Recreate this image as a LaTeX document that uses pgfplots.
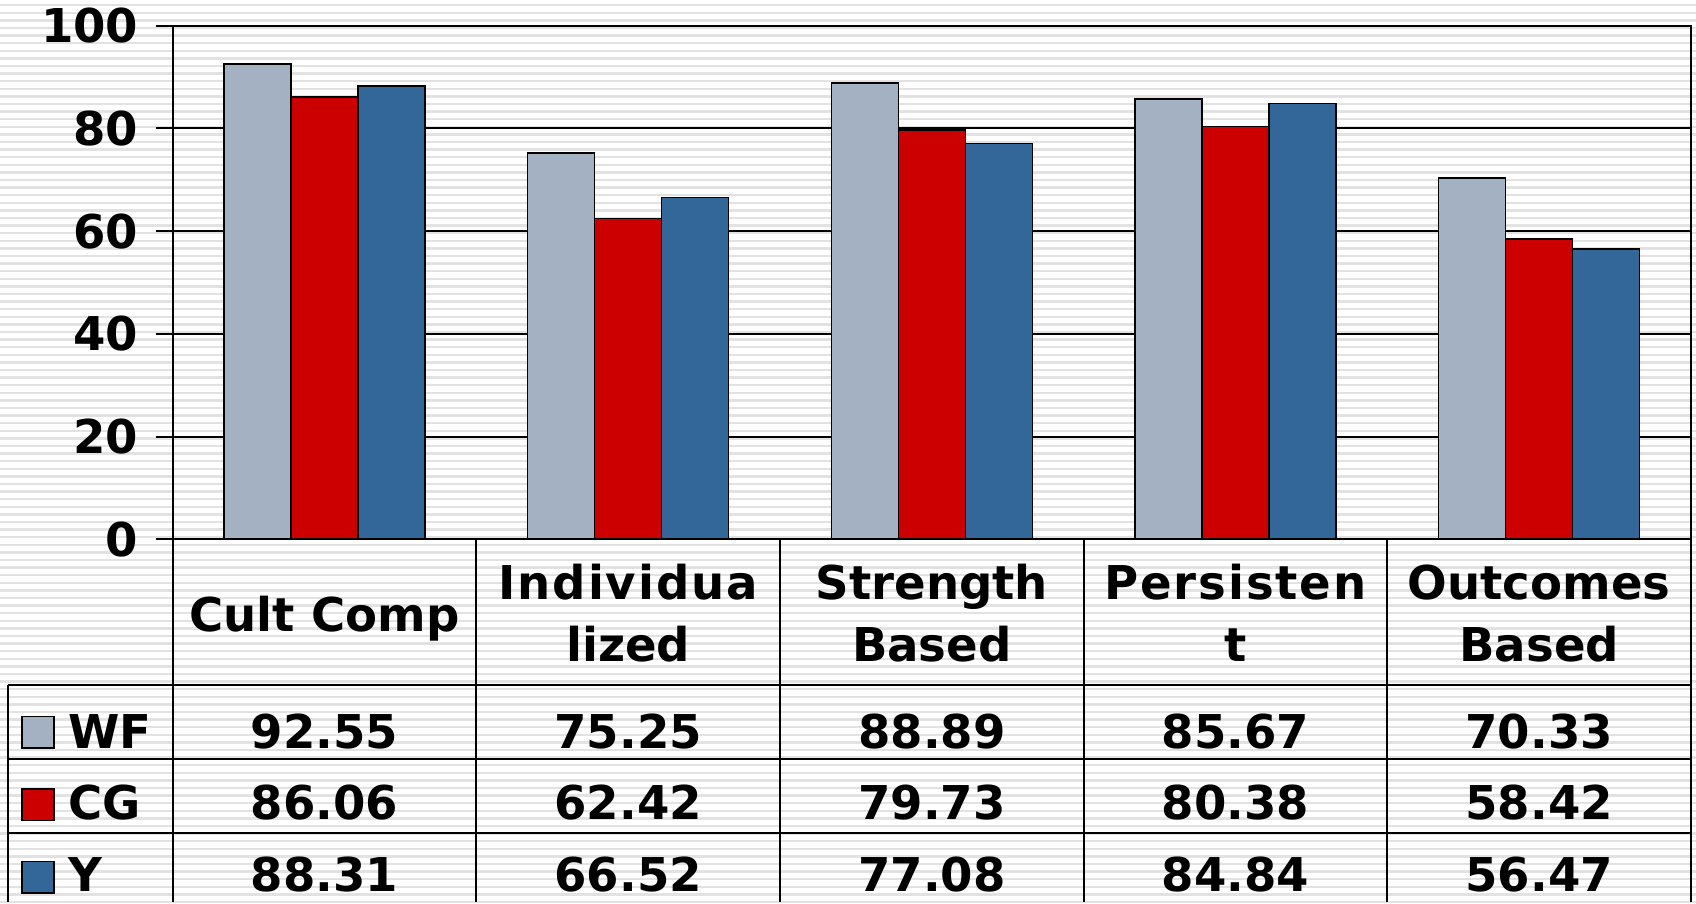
\documentclass[border=0pt]{standalone}
\usepackage{pgfplots}
\pgfplotsset{compat=1.18}
\usepackage{pgfplotstable}
\usepackage{fontspec}
\setmainfont{DejaVu Sans}
\newfontfamily\spaced[LetterSpace=4]{DejaVu Sans}
\definecolor{cWF}{RGB}{163,177,194}
\definecolor{cCG}{RGB}{204,0,0}
\definecolor{cY}{RGB}{51,102,153}
\definecolor{stripe}{RGB}{226,226,226}

\pgfplotstableread{
x WF CG Y
0 92.55 86.06 88.31
1 75.25 62.42 66.52
2 88.89 79.73 77.08
3 85.67 80.38 84.84
4 70.33 58.42 56.47
}\datatable

\newcommand\ff{\fontsize{23.3}{28}\selectfont\bfseries}

\begin{document}
\begin{tikzpicture}[x=0.5pt,y=0.5pt]
\fill[white] (0,0) rectangle (1696,902);
\foreach \k in {0,...,118}{\fill[stripe] (0,{902-4-\k*7.6}) rectangle (1696,{902-6.5-\k*7.6});}
\useasboundingbox (0,0) rectangle (1696,902);
\begin{axis}[at={(86.35pt,181.35pt)}, anchor=south west, scale only axis,
  width=759.15pt, height=256.8pt,
  xmin=-0.5, xmax=4.5, ymin=0, ymax=100,
  xtick=\empty, ytick={0,20,...,100}, ytick pos=left,
  tick align=outside, major tick length=8.5pt,
  tick style={black, line width=1pt},
  ymajorgrids, grid style={black, line width=1pt},
  axis line style={black, line width=1pt},
  yticklabel style={font=\ff, /pgf/number format/assume math mode=true, inner sep=0pt, xshift=-8.5pt},
  ybar=0pt, bar width=33.5pt, clip=false]
\addplot[fill=cWF, draw=black, line width=0.8pt] table[x=x,y=WF]{\datatable};
\addplot[fill=cCG, draw=black, line width=0.8pt] table[x=x,y=CG]{\datatable};
\addplot[fill=cY, draw=black, line width=0.8pt] table[x=x,y=Y]{\datatable};
\end{axis}
% table grid
\begin{scope}[line width=1pt, black]
\draw (8,{902-685}) -- (1691,{902-685});
\draw (8,{902-759.3}) -- (1691,{902-759.3});
\draw (8,{902-833.3}) -- (1691,{902-833.3});
\draw (8,{902-685}) -- (8,0);
\foreach \c in {0,...,5}{\draw ({172.7+303.66*\c},{902-539.3}) -- ({172.7+303.66*\c},0);}
\end{scope}
% category labels
\begin{scope}[font=\ff]
\node[anchor=base] at ({172.7+303.66*0.5},{902-631.7}) {Cult Comp};
\node[anchor=base] at ({172.7+303.66*1.5},{902-600}) {\spaced Individua};
\node[anchor=base] at ({172.7+303.66*1.5},{902-661.7}) {lized};
\node[anchor=base] at ({172.7+303.66*2.5},{902-600}) {Strength};
\node[anchor=base] at ({172.7+303.66*2.5},{902-661.7}) {Based};
\node[anchor=base] at ({172.7+303.66*3.5},{902-600}) {\spaced Persisten};
\node[anchor=base] at ({172.7+303.66*3.5},{902-661.7}) {t};
\node[anchor=base] at ({172.7+303.66*4.5},{902-600}) {Outcomes};
\node[anchor=base] at ({172.7+303.66*4.5},{902-661.7}) {Based};
% values
\foreach \i in {0,...,4}{
  \pgfplotstablegetelem{\i}{WF}\of\datatable \let\vA\pgfplotsretval
  \pgfplotstablegetelem{\i}{CG}\of\datatable \let\vB\pgfplotsretval
  \pgfplotstablegetelem{\i}{Y}\of\datatable \let\vC\pgfplotsretval
  \node[anchor=base] at ({172.7+303.66*(\i+0.5)},{902-749}) {\vA};
  \node[anchor=base] at ({172.7+303.66*(\i+0.5)},{902-820}) {\vB};
  \node[anchor=base] at ({172.7+303.66*(\i+0.5)},{902-891.7}) {\vC};
}
% legend keys
\draw[fill=cWF, line width=0.8pt] (22,{902-716.7}) rectangle (54,{902-748.3});
\draw[fill=cCG, line width=0.8pt] (22,{902-789.3}) rectangle (54,{902-820.7});
\draw[fill=cY, line width=0.8pt] (22,{902-861.7}) rectangle (54,{902-893.3});
\node[anchor=base west, inner sep=0pt] at (68,{902-749}) {WF};
\node[anchor=base west, inner sep=0pt] at (68,{902-820}) {CG};
\node[anchor=base west, inner sep=0pt] at (68,{902-891.7}) {Y};
\end{scope}
\end{tikzpicture}
\end{document}
